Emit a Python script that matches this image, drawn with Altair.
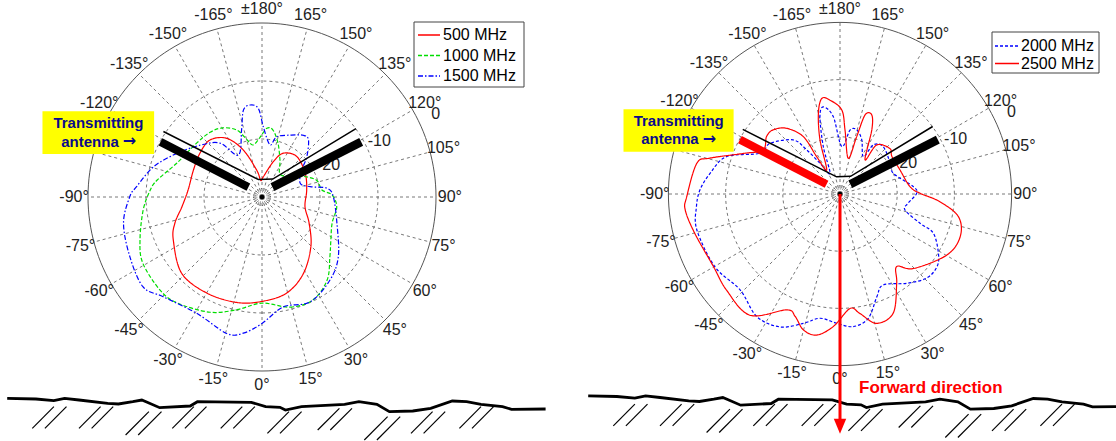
import math
import altair as alt
import pandas as pd

# ---------------- values (angle in deg, level in dB) ----------------
SERIES_LEFT = ["500 MHz", "1000 MHz", "1500 MHz"]
SERIES_RIGHT = ["2000 MHz", "2500 MHz"]

ANG_500 = [0, 14.4, 28.4, 44.6, 60.9, 77.3, 98.9, 118.9, 139.3, 154.0, 162.2, 176.3, -175.6, -168.9,
           -158.3, -149.0, -137.6, -125.2, -111.5, -95.4, -83.1, -73.2, -64.1, -46.5, -29.9, -13.5]
DB_500 = [-12.0, -12.9, -15.0, -18.0, -20.7, -22.4, -22.2, -21.5, -20.8, -21.6, -23.6, -26.5, -27.1, -25.3,
          -21.3, -18.2, -16.7, -16.9, -17.3, -17.2, -16.1, -14.3, -13.0, -10.9, -10.9, -11.3]

ANG_1000 = [0, 14.3, 26.3, 38.1, 48.6, 58.0, 69.6, 82.4, 91.6, 96.7, 107.5, 118.9, 139.2, 154.1, 163.5,
            170.7, 175.9, -178.1, -170.2, -165.3, -159.5, -150.5, -141.3, -129.7, -111.8, -99.2, -93.6,
            -83.8, -70.6, -61.0, -47.6, -38.7, -24.3, -12.5]
DB_1000 = [-11.7, -10.4, -10.2, -11.8, -14.4, -16.0, -17.1, -17.0, -17.9, -19.6, -20.2, -22.5, -25.0, -22.9,
           -20.3, -18.3, -18.1, -19.7, -20.9, -19.8, -17.7, -16.3, -15.7, -15.4, -14.2, -11.7, -10.7,
           -9.4, -7.7, -6.5, -6.2, -6.6, -8.2, -10.1]

ANG_1500 = [0, 11.0, 24.6, 39.3, 52.0, 70.6, 90.2, 97.7, 102.1, 109.8, 124.2, 132.0, 140.9, 146.3, 155.7,
            166.3, 171.3, 178.9, -177.6, -172.6, -167.9, -163.1, -150.6, -142.0, -130.0, -117.1, -105.6,
            -94.7, -90.1, -79.3, -65.7, -52.9, -44.7, -29.3, -14.5, -7.8]
DB_1500 = [-8.2, -10.7, -10.1, -11.5, -13.3, -16.3, -17.7, -18.7, -21.5, -23.0, -21.7, -19.6, -17.3, -17.2,
           -18.3, -19.3, -20.9, -17.9, -14.7, -14.0, -14.7, -17.9, -21.7, -18.2, -16.1, -13.5, -10.6,
           -8.3, -7.2, -5.7, -5.0, -4.3, -5.8, -7.0, -5.7, -6.3]

ANG_2000 = [-1.5, 5.7, 12.8, 19.7, 25.4, 36.8, 45.8, 53.1, 58.9, 67.2, 69.9, 76.2, 82.2, 90.5, 95.7, 111.2,
            121.5, 137.5, 145.8, 148.0, 158.1, 165.4, 171.1, 177.9, -175.0, -169.2, -165.5, -160.6, -154.2,
            -146.9, -142.9, -139.1, -125.9, -117.0, -108.2, -99.0, -91.6, -84.9, -75.9, -59.8, -46.2,
            -34.2, -24.3, -15.8, -9.1]
DB_2000 = [-7.4, -6.7, -7.7, -10.9, -12.4, -10.5, -8.9, -8.8, -9.9, -12.3, -15.1, -18.3, -18.0, -16.6, -17.1,
           -20.0, -19.7, -18.8, -19.6, -22.3, -19.8, -18.4, -18.7, -21.7, -16.4, -14.5, -16.0, -21.2, -26.0,
           -23.6, -20.3, -17.5, -14.9, -14.3, -9.1, -7.0, -5.5, -4.8, -4.2, -4.7, -5.8,
           -4.1, -4.5, -6.5, -8.0]

ANG_2500 = [-15.1, -9.4, -2.9, 5.0, 9.5, 15.8, 24.1, 32.4, 38.0, 44.6, 60.2, 70.4, 79.1, 85.6, 90.5, 96.0,
            111.8, 125.8, 132.4, 143.2, 143.7, 153.6, 158.1, 162.4, 163.8, 166.9, 175.5, 178.8, -173.9,
            -169.2, -165.0, -159.7, -151.0, -148.0, -147.4, -140.9, -133.8, -128.0, -119.8, -112.8,
            -105.4, -102.1, -89.0, -84.1, -74.8, -60.2, -49.7, -36.6, -24.7, -20.1]
DB_2500 = [-5.4, -5.0, -6.8, -9.9, -8.8, -6.5, -7.2, -11.5, -13.9, -11.7, -8.5, -7.7, -8.9, -12.5, -16.0, -17.7,
           -18.7, -18.8, -18.2, -19.3, -22.6, -17.5, -15.1, -15.5, -19.6, -23.6, -18.8, -15.3, -13.5,
           -13.0, -15.4, -19.9, -25.2, -22.3, -18.1, -15.2, -13.8, -13.7, -14.5, -11.7,
           -6.4, -4.4, -3.2, -2.8, -3.7, -4.5, -4.0, -3.6, -7.7, -7.2]

DB_FLOOR = -30
GRID_DB = [-20, -10]
RADIAL_TEXT = ["-20", "-10", "0"]
ANGLE_TICKS = list(range(-165, 181, 15))

# ---------------- illustration geometry (left picture, pixels) ----------------
GROUND_X = [7.2, 35.9, 53.8, 64.6, 79.0, 107.7, 118.4, 132.8, 141.8, 147.2, 159.7, 190.2, 197.4, 251.3,
            265.6, 280.0, 285.4, 301.5, 344.6, 358.9, 376.9, 389.4, 412.8, 430.7, 452.3, 466.6, 481.0,
            502.5, 511.5, 545.6]
GROUND_Y = [398.3, 399.0, 400.7, 398.3, 400.0, 403.3, 404.0, 401.7, 400.0, 402.3, 407.7, 406.0, 401.7, 402.3,
            406.7, 407.3, 410.0, 406.7, 404.3, 401.7, 404.3, 411.7, 411.0, 408.3, 401.0, 401.7, 404.3,
            406.7, 409.3, 409.0]
HATCH_X = [32.3, 79.0, 125.6, 172.3, 220.7, 267.4, 317.7, 364.3, 411.0, 459.4]
HATCH_YB = [428.3, 428.3, 435.0, 428.3, 428.3, 433.3, 430.0, 440.0, 433.3, 428.3]
HATCH_YT = [406.7, 406.7, 411.7, 406.7, 406.7, 411.7, 408.3, 416.7, 411.7, 406.7]

PANEL_W, PANEL_H = 558, 441
FONT = "Liberation Sans"

LEFT = dict(cx=262, cy=197, ppu=5.8, gshift=(0, 0),
            legend_box=(414, 22, 524, 87), legend_rows=[35, 55.5, 76], legend_x=(418, 440, 443),
            series=SERIES_LEFT, curves=[(ANG_500, DB_500), (ANG_1000, DB_1000), (ANG_1500, DB_1500)],
            colors=["#ff0000", "#00dd00", "#0000ff"], dashes=[[1, 0], [4, 2], [5, 2, 1.5, 2]],
            bar_left="black", arrow=False)
RIGHT = dict(cx=282, cy=194, ppu=5.72, gshift=(23, -2.5),
             legend_box=(434, 32, 541, 73), legend_rows=[46, 63.5], legend_x=(437, 461, 463),
             series=SERIES_RIGHT, curves=[(ANG_2000, DB_2000), (ANG_2500, DB_2500)],
             colors=["#0000ff", "#ff0000"], dashes=[[3, 2], [1, 0]],
             bar_left="#ff0000", arrow=True)


def pol(ang, r):
    t = math.radians(ang)
    return r * math.sin(t), -r * math.cos(t)


def tick_label(a):
    if a == 180:
        return "\u00b1180\u00b0"
    return f"{a}\u00b0"


def build_panel(cfg):
    ppu, cx, cy = cfg["ppu"], cfg["cx"], cfg["cy"]
    xs = alt.Scale(domain=[-cx / ppu, (PANEL_W - cx) / ppu], nice=False, zero=False)
    ys = alt.Scale(domain=[-(PANEL_H - cy) / ppu, cy / ppu], nice=False, zero=False)
    X = alt.X("x:Q", scale=xs, axis=None)
    Y = alt.Y("y:Q", scale=ys, axis=None)

    def px(xp, yp):
        return (xp - cx) / ppu, (cy - yp) / ppu

    # grid circles
    rows = []
    for ring in [d - DB_FLOOR for d in GRID_DB]:
        for k in range(0, 361, 3):
            x, y = pol(k, ring)
            rows.append(dict(ring=ring, k=k, x=x, y=y))
    rings = alt.Chart(pd.DataFrame(rows)).mark_line(
        strokeDash=[3, 3], color="#555", strokeWidth=0.8).encode(x=X, y=Y, detail="ring:N", order="k:Q")

    rows = []
    for k in range(0, 361, 2):
        x, y = pol(k, -DB_FLOOR)
        rows.append(dict(k=k, x=x, y=y))
    outer = alt.Chart(pd.DataFrame(rows)).mark_line(color="#555", strokeWidth=1).encode(x=X, y=Y, order="k:Q")

    rows = []
    for ring in [0.9, 1.45]:
        for k in range(0, 361, 10):
            x, y = pol(k, ring)
            rows.append(dict(ring=ring, k=k, x=x, y=y))
    tiny = alt.Chart(pd.DataFrame(rows)).mark_line(
        strokeDash=[1, 1.2], color="#444", strokeWidth=0.8).encode(x=X, y=Y, detail="ring:N", order="k:Q")

    rows = []
    for a in range(0, 360, 15):
        x2, y2 = pol(a, -DB_FLOOR)
        rows.append(dict(x=0, y=0, x2=x2, y2=y2))
    spokes = alt.Chart(pd.DataFrame(rows)).mark_rule(
        strokeDash=[3, 3], color="#555", strokeWidth=0.8).encode(x=X, y=Y, x2="x2:Q", y2="y2:Q")

    rows = []
    for a in ANGLE_TICKS:
        x, y = pol(a, 32.4)
        rows.append(dict(x=x, y=y, t=tick_label(a)))
    alabels = alt.Chart(pd.DataFrame(rows)).mark_text(
        font=FONT, fontSize=16, color="#222", align="center", baseline="middle").encode(x=X, y=Y, text="t:N")

    rows = []
    for txt, rr in zip(RADIAL_TEXT, [12.7, 22.4, 33.2]):
        x, y = pol(115.5, rr)
        rows.append(dict(x=x, y=y, t=txt))
    rlabels = alt.Chart(pd.DataFrame(rows)).mark_text(
        font=FONT, fontSize=16, color="#222", align="center", baseline="middle").encode(x=X, y=Y, text="t:N")

    # curves
    color = alt.Color("series:N", scale=alt.Scale(domain=cfg["series"], range=cfg["colors"]), legend=None)
    dash = alt.StrokeDash("series:N", scale=alt.Scale(domain=cfg["series"], range=cfg["dashes"]), legend=None)
    rows = []
    for name, (angs, dbs) in zip(cfg["series"], cfg["curves"]):
        for i, (a, d) in enumerate(zip(angs, dbs)):
            x, y = pol(a, d - DB_FLOOR)
            rows.append(dict(series=name, i=i, x=x, y=y))
    curves = alt.Chart(pd.DataFrame(rows)).mark_line(
        interpolate="cardinal-closed", strokeWidth=1.2).encode(x=X, y=Y, order="i:Q", color=color, strokeDash=dash)

    # legend box: samples use the same colour / dash scales as the curves
    bx0, by0, bx1, by1 = cfg["legend_box"]
    lx0, ly0 = px(bx0, by0)
    lx1, ly1 = px(bx1, by1)
    lbox = alt.Chart(pd.DataFrame([dict(x=lx0, y=ly0, x2=lx1, y2=ly1)])).mark_rect(
        fill="white", stroke="#444", strokeWidth=1).encode(x=X, y=Y, x2="x2:Q", y2="y2:Q")
    sx0, sx1, tx = cfg["legend_x"]
    srows, trows = [], []
    for name, ry in zip(cfg["series"], cfg["legend_rows"]):
        a, yy = px(sx0, ry)
        b, _ = px(sx1, ry)
        t, _ = px(tx, ry)
        srows.append(dict(series=name, k=0, x=a, y=yy))
        srows.append(dict(series=name, k=1, x=b, y=yy))
        trows.append(dict(series=name, tx=t, y=yy))
    lsym = alt.Chart(pd.DataFrame(srows)).mark_line(strokeWidth=1.3).encode(
        x=X, y=Y, order="k:Q", color=color, strokeDash=dash)
    ltxt = alt.Chart(pd.DataFrame(trows)).mark_text(
        font=FONT, fontSize=16, color="black", align="left", baseline="middle").encode(
        x=alt.X("tx:Q", scale=xs, axis=None), y=Y, text="series:N")

    # antenna sketch
    barL = alt.Chart(pd.DataFrame([dict(x=-17.5, y=9.5, x2=-2.35, y2=1.7)])).mark_rule(
        color=cfg["bar_left"], strokeWidth=8, strokeCap="butt").encode(x=X, y=Y, x2="x2:Q", y2="y2:Q")
    barR = alt.Chart(pd.DataFrame([dict(x=1.8, y=1.7, x2=17.1, y2=9.5)])).mark_rule(
        color="black", strokeWidth=8.5, strokeCap="butt").encode(x=X, y=Y, x2="x2:Q", y2="y2:Q")
    thin = alt.Chart(pd.DataFrame(dict(k=[0, 1, 2, 3], x=[-17.0, -0.6, 1.85, 16.2],
                                       y=[11.3, 3.0, 3.1, 11.8]))).mark_line(
        color="black", strokeWidth=1.5).encode(x=X, y=Y, order="k:Q")

    box = alt.Chart(pd.DataFrame([dict(x=-37.85, x2=-18.6, y=7.4, y2=14.8)])).mark_rect(
        color="#ffff00").encode(x=X, y=Y, x2="x2:Q", y2="y2:Q")
    navy = "#0a0a8c"
    t1 = alt.Chart(pd.DataFrame([dict(x=-28.2, y=12.75, t="Transmitting")])).mark_text(
        font=FONT, fontSize=15, fontWeight="bold", color=navy, align="center",
        baseline="middle").encode(x=X, y=Y, text="t:N")
    t2 = alt.Chart(pd.DataFrame([dict(x=-24.7, y=9.55, t="antenna")])).mark_text(
        font=FONT, fontSize=15, fontWeight="bold", color=navy, align="right",
        baseline="middle").encode(x=X, y=Y, text="t:N")
    t3 = alt.Chart(pd.DataFrame([dict(x=-24.0, y=9.6, t="\u2192")])).mark_text(
        font="DejaVu Sans", fontSize=16, fontWeight="bold", color=navy, align="left",
        baseline="middle").encode(x=X, y=Y, text="t:N")

    # ground
    gdx, gdy = cfg["gshift"]
    rows = []
    for i, (gx, gy) in enumerate(zip(GROUND_X, GROUND_Y)):
        x, y = px(gx + gdx, gy + gdy)
        rows.append(dict(i=i, x=x, y=y))
    ground = alt.Chart(pd.DataFrame(rows)).mark_line(
        color="black", strokeWidth=2.8, clip=True).encode(x=X, y=Y, order="i:Q")
    rows = []
    for hx, yb, yt in zip(HATCH_X, HATCH_YB, HATCH_YT):
        for off in (0, 12.6):
            x, y = px(hx + off + gdx, yb + gdy)
            x2, y2 = px(hx + off + (yb - yt) + gdx, yt + gdy)
            rows.append(dict(x=x, y=y, x2=x2, y2=y2))
    hatch = alt.Chart(pd.DataFrame(rows)).mark_rule(
        color="black", strokeWidth=1.2, clip=True).encode(x=X, y=Y, x2="x2:Q", y2="y2:Q")

    dot = alt.Chart(pd.DataFrame([dict(x=0, y=0)])).mark_circle(
        color="black", size=22, opacity=1).encode(x=X, y=Y)

    layers = [rings, outer, spokes, tiny, alabels, rlabels, curves, barL, barR, thin, box, t1, t2, t3,
              ground, hatch, dot, lbox, lsym, ltxt]

    if cfg["arrow"]:
        _, ytip = px(0, 430)
        _, yend = px(0, 422)
        arr = alt.Chart(pd.DataFrame([dict(x=0, y=0, x2=0, y2=yend)])).mark_rule(
            color="#ff0000", strokeWidth=3).encode(x=X, y=Y, x2="x2:Q", y2="y2:Q")
        head = alt.Chart(pd.DataFrame([dict(x=0, y=(ytip + yend) / 2 - 0.05)])).mark_point(
            shape="M-0.83,-1L0.83,-1L0,1Z", filled=True, color="#ff0000", size=225, opacity=1).encode(x=X, y=Y)
        fx, fy = px(19 + cx, 388)
        ftxt = alt.Chart(pd.DataFrame([dict(x=fx, y=fy, t="Forward direction")])).mark_text(
            font=FONT, fontSize=17, fontWeight="bold", color="#ff0000", align="left",
            baseline="middle").encode(x=X, y=Y, text="t:N")
        layers += [arr, head, ftxt]

    return alt.layer(*layers).properties(width=PANEL_W, height=PANEL_H)


chart = alt.hconcat(build_panel(LEFT), build_panel(RIGHT), spacing=0).resolve_scale(
    color="independent", strokeDash="independent").properties(padding=0, bounds="flush").configure_view(
    stroke=None)

chart.save("out.html", embed_options={"renderer": "svg", "actions": False})
